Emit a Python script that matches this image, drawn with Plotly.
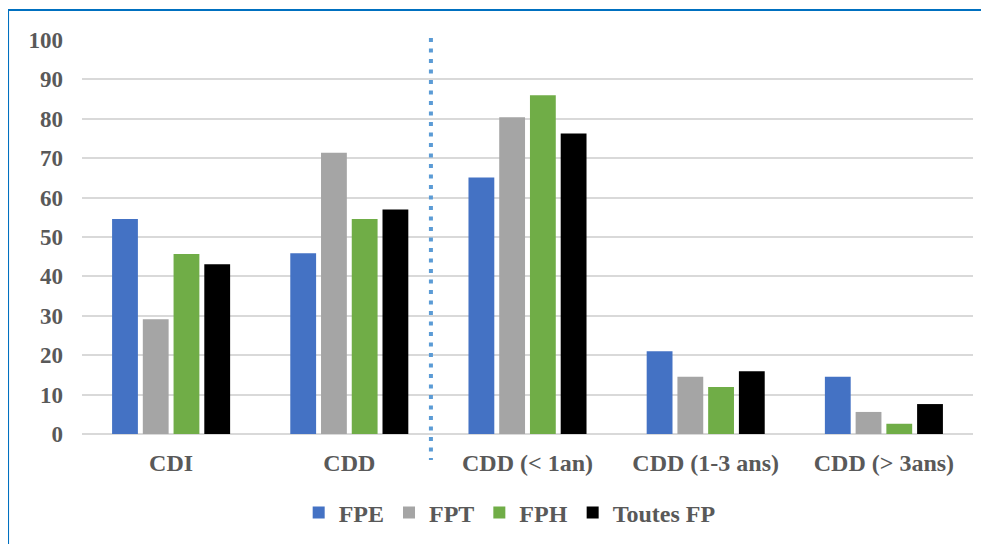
import plotly.graph_objects as go

categories = ["CDI", "CDD", "CDD (< 1an)", "CDD (1-3 ans)", "CDD (> 3ans)"]
series_names = ["FPE", "FPT", "FPH", "Toutes FP"]
fpe = [54.6, 45.9, 65.1, 21.0, 14.5]
fpt = [29.1, 71.4, 80.4, 14.5, 5.6]
fph = [45.7, 54.6, 86.0, 11.9, 2.6]
toutes = [43.1, 57.0, 76.3, 15.9, 7.6]
y_ticks = [0, 10, 20, 30, 40, 50, 60, 70, 80, 90, 100]

colors = ["#4472C4", "#A5A5A5", "#70AD47", "#000000"]
values = [fpe, fpt, fph, toutes]

fig = go.Figure()
for name, vals, col in zip(series_names, values, colors):
    fig.add_trace(go.Bar(x=categories, y=vals, name=name,
                         marker=dict(color=col, line=dict(width=0))))

font_family = "Liberation Serif, Times New Roman, serif"
fig.update_layout(
    width=989, height=544,
    paper_bgcolor="white", plot_bgcolor="white",
    margin=dict(l=74, r=24, t=32, b=118),
    barmode="group", bargap=0.31, bargroupgap=0.16,
    font=dict(family=font_family, size=22, color="#595959"),
    showlegend=True,
    legend=dict(orientation="h", x=0.48, xanchor="center", y=-0.2, yanchor="middle",
                font=dict(family=font_family, size=24, color="#595959", weight="bold"),
                itemwidth=30, traceorder="normal"),
    xaxis=dict(showgrid=False, showline=False, ticks="", ticklabelstandoff=12,
               tickfont=dict(family=font_family, size=24, color="#595959", weight="bold")),
    yaxis=dict(range=[0, 100], tickvals=y_ticks, showgrid=True, gridcolor="#D9D9D9",
               gridwidth=1.5, zeroline=True, zerolinecolor="#D9D9D9", zerolinewidth=1.5,
               showline=False, ticks="", ticklabelstandoff=18,
               tickfont=dict(family=font_family, size=23, color="#595959", weight="bold")),
    shapes=[
        dict(type="line", xref="x", yref="paper", x0=1.458, x1=1.458, y0=1.005, y1=-0.066,
             line=dict(color="#5B9BD5", width=4, dash="4px,6.5px")),
        dict(type="rect", xref="paper", yref="paper", x0=-0.083, x1=1.06, y0=-0.4, y1=1.076,
             line=dict(color="#0070C0", width=2), fillcolor="rgba(0,0,0,0)", layer="above"),
    ],
)

fig.write_html("out.html")
